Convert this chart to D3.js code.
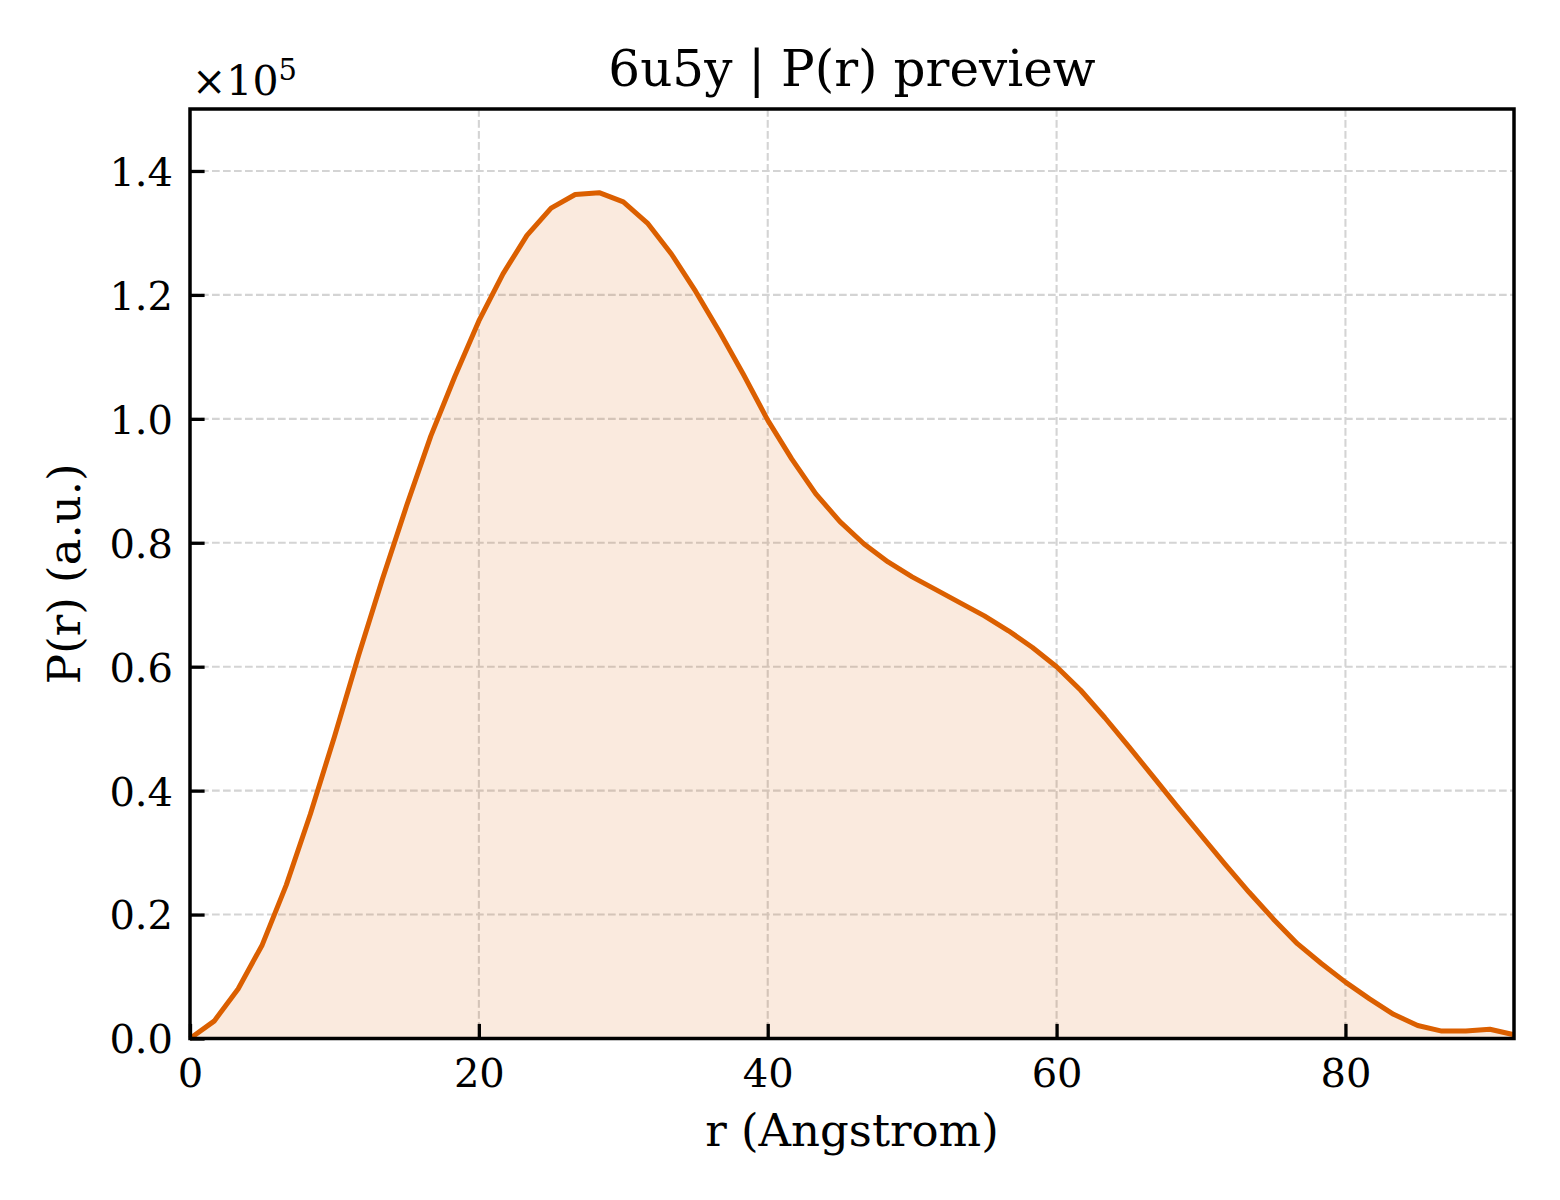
<!DOCTYPE html>
<html>
<head>
<meta charset="utf-8">
<script src="https://cdn.jsdelivr.net/npm/d3@7"></script>
<style>
body{margin:0;background:#fff;}
text{font-family:"DejaVu Serif",serif;fill:#000;}
</style>
</head>
<body>
<script>
var title = "6u5y | P(r) preview";
// r in Angstrom
var rVals = [0,1.67,3.33,5.00,6.67,8.33,10.00,11.67,13.33,15.00,16.67,18.33,20.00,21.67,23.33,25.00,26.67,28.33,30.00,31.67,
  33.33,35.00,36.67,38.33,40.00,41.67,43.33,45.00,46.67,48.33,50.00,51.67,53.33,55.00,56.67,58.33,60.00,61.67,63.33,65.00,
  66.67,68.33,70.00,71.67,73.33,75.00,76.67,78.33,80.00,81.67,83.33,85.00,86.67,88.33,90.00,91.67];
// P(r), a.u.
var prVals = [0,2800,8000,15100,24800,36200,48700,61800,74200,86000,97200,106800,115800,123400,129600,134000,136200,136500,135000,131600,
  126600,120600,114000,107100,99800,93500,87900,83400,79800,76900,74500,72400,70300,68200,65800,63100,60000,56200,51800,47100,
  42300,37500,32800,28100,23600,19300,15300,12100,9100,6400,3900,2100,1200,1200,1500,600];
var xTicks = [0,20,40,60,80];
var yTicks = [0,20000,40000,60000,80000,100000,120000,140000];
var yMax = 150000;
var expo = 5;

var W = 1560, H = 1200;
var pL = 190, pT = 109, pR = 1514, pB = 1038.5;

var svg = d3.select("body").append("svg").attr("width",W).attr("height",H);

var x = d3.scaleLinear().domain([0,d3.max(rVals)]).range([pL,pR]);
var y = d3.scaleLinear().domain([0,yMax]).range([pB,pT]);

var pts = rVals.map(function(r,i){return [r,prVals[i]];});

// grid
var grid = svg.append("g").attr("stroke","#d4d4d4").attr("stroke-width",2.1).attr("stroke-dasharray","7.7,3.3");
grid.selectAll("line.gx").data(xTicks.slice(1)).enter().append("line")
  .attr("x1",function(d){return x(d);}).attr("x2",function(d){return x(d);})
  .attr("y1",pT).attr("y2",pB);
grid.selectAll("line.gy").data(yTicks.slice(1)).enter().append("line")
  .attr("y1",function(d){return y(d);}).attr("y2",function(d){return y(d);})
  .attr("x1",pL).attr("x2",pR);

// area + line
var area = d3.area().x(function(d){return x(d[0]);}).y0(y(0)).y1(function(d){return y(d[1]);});
svg.append("path").attr("d",area(pts)).attr("fill","#d95f02").attr("fill-opacity",0.13);
var line = d3.line().x(function(d){return x(d[0]);}).y(function(d){return y(d[1]);});
svg.append("path").attr("d",line(pts)).attr("fill","none").attr("stroke","#db5f00")
  .attr("stroke-width",5).attr("stroke-linejoin","round");

// axes, ticks inside
var xAxis = d3.axisBottom(x).tickValues(xTicks).tickSizeInner(-14.6).tickSizeOuter(0).tickPadding(20)
  .tickFormat(d3.format("d"));
var gx = svg.append("g").attr("transform","translate(0,"+pB+")").call(xAxis);
var yAxis = d3.axisLeft(y).tickValues(yTicks).tickSizeInner(-14.6).tickSizeOuter(0).tickPadding(17)
  .tickFormat(function(d){return (d/Math.pow(10,expo)).toFixed(1);});
var gy = svg.append("g").attr("transform","translate("+pL+",0)").call(yAxis);
[gx,gy].forEach(function(g){
  g.select(".domain").remove();
  g.selectAll(".tick line").attr("stroke","#000").attr("stroke-width",3.3);
  g.selectAll(".tick text").style("font-family","DejaVu Serif").style("font-size","40px");
});
gx.selectAll(".tick text").attr("dy","0.71em");
gy.selectAll(".tick text").attr("dy","0.36em");

// frame
svg.append("rect").attr("x",pL).attr("y",pT).attr("width",pR-pL).attr("height",pB-pT)
  .attr("fill","none").attr("stroke","#000").attr("stroke-width",3.5);

// offset text
var off = svg.append("text").attr("x",pL+2).attr("y",95).style("font-size","41px");
off.append("tspan").text("\u00d710");
off.append("tspan").attr("dy",-15).style("font-size","29px").text(expo);

svg.append("text").attr("x",(pL+pR)/2).attr("y",86).attr("text-anchor","middle")
  .style("font-size","50px").text(title);
svg.append("text").attr("x",(pL+pR)/2).attr("y",1146).attr("text-anchor","middle")
  .style("font-size","45px").text("r (Angstrom)");
svg.append("text").attr("transform","translate(80,"+((pT+pB)/2)+") rotate(-90)")
  .attr("text-anchor","middle").style("font-size","45px").text("P(r) (a.u.)");
</script>
</body>
</html>
